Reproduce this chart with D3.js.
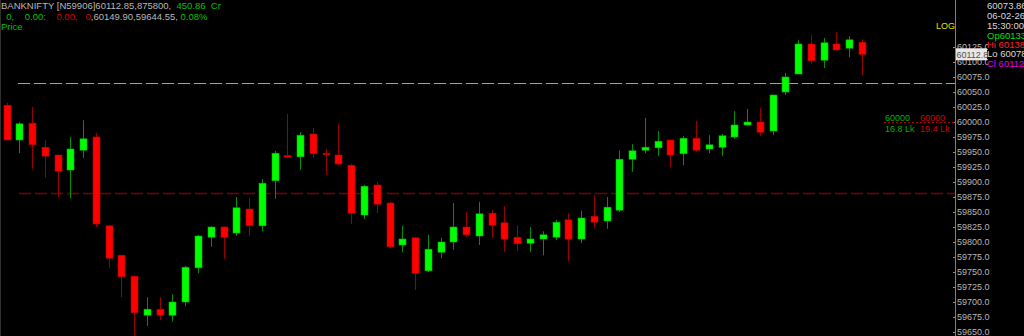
<!DOCTYPE html>
<html>
<head>
<meta charset="utf-8">
<script src="https://cdn.jsdelivr.net/npm/d3@7"></script>
<style>
  html, body { margin: 0; padding: 0; background: #000; }
  svg { display: block; font-family: "Liberation Sans", Arial, sans-serif; }
</style>
</head>
<body>
<svg id="chart" width="1024" height="336"></svg>
<script>
// candles, left to right (15 min bars)
const opens  = [60028, 59970, 59998, 59958, 59945, 59920, 59953, 59975, 59827, 59778, 59743, 59678, 59688, 59678, 59700, 59757, 59808,
                59825, 59815, 59855, 59827, 59902, 59944, 59942, 59980, 59948, 59945, 59928, 59845, 59895, 59865, 59795, 59807, 59752,
                59783, 59800, 59825, 59810, 59848, 59832, 59808, 59798, 59805, 59808, 59837, 59805, 59843, 59835, 59853, 59938, 59953,
                59957, 59970, 59947, 59973, 59955, 59958, 59975, 59995, 60000, 59985, 60050, 60080, 60130, 60103, 60130, 60123, 60133];
const highs  = [60032, 60000, 60025, 59970, 59945, 59975, 60003, 59982, 59828, 59778, 59744, 59708, 59708, 59713, 59760, 59812, 59826,
                59826, 59875, 59873, 59905, 59952, 60013, 59983, 59990, 59955, 59997, 59930, 59895, 59900, 59867, 59827, 59808, 59812,
                59807, 59865, 59850, 59867, 59853, 59860, 59827, 59825, 59818, 59837, 59848, 59852, 59878, 59875, 59953, 59963, 60007,
                59985, 59970, 59977, 60002, 59978, 59980, 60018, 60022, 60023, 60045, 60082, 60137, 60145, 60140, 60149.9, 60143, 60138];
const lows   = [59970, 59948, 59922, 59907, 59875, 59873, 59940, 59825, 59757, 59708, 59644.55, 59660, 59670, 59667, 59693, 59748, 59792,
                59772, 59810, 59810, 59818, 59872, 59940, 59920, 59940, 59912, 59928, 59830, 59838, 59848, 59790, 59783, 59720, 59750,
                59773, 59787, 59808, 59795, 59807, 59783, 59785, 59783, 59778, 59803, 59768, 59798, 59823, 59822, 59850, 59917, 59948,
                59943, 59925, 59928, 59950, 59948, 59943, 59972, 59995, 59977, 59978, 60045, 60080, 60097, 60090, 60120, 60108, 60078];
const closes = [59970, 59997, 59962, 59943, 59918, 59955, 59972, 59830, 59773, 59742, 59682, 59688, 59678, 59700, 59758, 59810, 59825,
                59808, 59857, 59827, 59898, 59948, 59942, 59978, 59947, 59946, 59930, 59848, 59893, 59863, 59792, 59805, 59748, 59788,
                59800, 59825, 59812, 59847, 59828, 59805, 59797, 59805, 59812, 59833, 59805, 59840, 59833, 59858, 59938, 59952, 59958,
                59968, 59945, 59973, 59953, 59962, 59977, 59995, 60000, 59983, 60045, 60075, 60130, 60102, 60132, 60120, 60137, 60112.85];

const yTicks = [59650, 59675, 59700, 59725, 59750, 59775, 59800, 59825, 59850, 59875, 59900, 59925, 59950, 59975,
                60000, 60025, 60050, 60075, 60100, 60125];
const lastPrice = 60112.85;
const greyLevel = 60065;   // white dashed line
const redLevel = 59882;    // dark red dashed line
const oiStrike = 60000;
const oiCall = "16.8 Lk";
const oiPut = "19.4 Lk";

const headerLine1 = [["BANKNIFTY [N59906]", "#b8b8b8"], ["60112.85,875800,", "#b8b8b8"], ["  450.86  Cr", "#00c000"]];
const headerLine2 = [["  0,", "#00c000"], ["    0.00:", "#00c000"], ["    0.00,", "#d00000"], ["   0", "#d00000"],
                     [",60149.90,59644.55,", "#b8b8b8"], [" 0.08%", "#00c000"]];
const infoLines = [["60073.86", "#d8d8d8"], ["06-02-26", "#d8d8d8"], ["15:30:00", "#d8d8d8"], ["Op60133.", "#00e000"],
                   ["Hi  60138", "#ff2020"], ["Lo  60078", "#d8d8d8"], ["Cl  60112", "#e000e0"]];

const svg = d3.select("#chart");
const width = 1024, height = 336;
const axisX = 955;

svg.append("rect").attr("width", width).attr("height", height).attr("fill", "#000");
svg.append("line").attr("x1", 0.5).attr("x2", 0.5).attr("y1", 0).attr("y2", height).attr("stroke", "#303030");

const x = d3.scaleLinear().domain([0, opens.length - 1]).range([6.5, 862]);
const y = d3.scaleLinear().domain([59650, 60125]).range([332, 47]);

const candles = opens.map((o, i) => ({ i, o, h: highs[i], l: lows[i], c: closes[i], up: closes[i] >= o }));

// dashed level lines
svg.append("line")
  .attr("x1", 18).attr("x2", axisX)
  .attr("y1", Math.round(y(greyLevel)) + 0.5).attr("y2", Math.round(y(greyLevel)) + 0.5)
  .attr("stroke", "#a0a0a0").attr("stroke-width", 1.2).attr("stroke-dasharray", "12,4");
svg.append("line")
  .attr("x1", 19).attr("x2", axisX)
  .attr("y1", Math.round(y(redLevel)) + 0.5).attr("y2", Math.round(y(redLevel)) + 0.5)
  .attr("stroke", "#7a0000").attr("stroke-width", 1.5).attr("stroke-dasharray", "12,4");

// candles
const g = svg.append("g");
g.selectAll("line.wick")
  .data(candles)
  .join("line")
  .attr("class", "wick")
  .attr("x1", d => Math.round(x(d.i)) + 0.5).attr("x2", d => Math.round(x(d.i)) + 0.5)
  .attr("y1", d => y(d.h)).attr("y2", d => y(d.l))
  .attr("stroke", d => d.up ? "#009000" : "#9a0000");

g.selectAll("rect.body")
  .data(candles)
  .join("rect")
  .attr("class", "body")
  .attr("x", d => Math.round(x(d.i)) - 3)
  .attr("width", 7)
  .attr("y", d => y(Math.max(d.o, d.c)))
  .attr("height", d => Math.max(1.5, Math.abs(y(d.o) - y(d.c))))
  .attr("fill", d => d.up ? "#00ff00" : "#ff0000")
  .attr("stroke", d => d.up ? "#00b000" : "#b00000")
  .attr("stroke-width", 0.6);

// right price axis
const axis = d3.axisRight(y).tickValues(yTicks).tickSize(3).tickFormat(d3.format(".1f"));
const ag = svg.append("g").attr("transform", `translate(${axisX - 2},0)`).call(axis);
ag.select(".domain").attr("stroke", "none");
ag.selectAll(".tick line").attr("stroke", "#909090");
ag.selectAll(".tick text").attr("fill", "#b8b8b8").attr("font-size", 9).attr("x", 4)
  .attr("font-family", "Liberation Sans, Arial, sans-serif");
svg.append("line").attr("x1", axisX + 0.5).attr("x2", axisX + 0.5).attr("y1", 0).attr("y2", height)
  .attr("stroke", "#808080");

// last price tag
const ly = y(lastPrice);
svg.append("rect").attr("x", axisX + 1).attr("y", ly - 6).attr("width", 31).attr("height", 12).attr("fill", "#e8e8e8");
svg.append("text").attr("x", axisX + 1.5).attr("y", ly + 3.5).attr("font-size", 9).attr("fill", "#505050")
  .text(d3.format(".1f")(lastPrice).slice(0, 7));

// info panel on the right
const infoY = [9, 19, 29, 39, 48, 57, 67];
svg.append("rect").attr("x", 988).attr("y", 41).attr("width", 36).attr("height", 28).attr("fill", "#000");
svg.append("g").selectAll("text")
  .data(infoLines)
  .join("text")
  .attr("x", 987)
  .attr("y", (d, i) => infoY[i])
  .attr("font-size", 9.5)
  .attr("fill", d => d[1])
  .text(d => d[0]);

svg.append("text").attr("x", 936).attr("y", 29).attr("font-size", 9).attr("fill", "#e0e000").text("LOG");

// OI strike marker
const oy = Math.round(y(oiStrike)) + 0.5;
svg.append("line").attr("x1", 884).attr("x2", axisX).attr("y1", oy).attr("y2", oy)
  .attr("stroke", "#b00000").attr("stroke-dasharray", "2,2");
svg.append("text").attr("x", 885).attr("y", oy - 2).attr("font-size", 9).attr("fill", "#00b000").text(oiStrike);
svg.append("text").attr("x", 920).attr("y", oy - 2).attr("font-size", 9).attr("fill", "#d00000").text(oiStrike);
svg.append("text").attr("x", 885).attr("y", oy + 9).attr("font-size", 9).attr("fill", "#00b000").text(oiCall);
svg.append("text").attr("x", 920).attr("y", oy + 9).attr("font-size", 9).attr("fill", "#d00000").text(oiPut);

// header
function headerLine(parts, yy) {
  const t = svg.append("text").attr("x", 1).attr("y", yy).attr("font-size", 9.5).attr("xml:space", "preserve")
    .style("white-space", "pre");
  parts.forEach(p => t.append("tspan").attr("fill", p[1]).text(p[0]));
}
headerLine(headerLine1, 9);
headerLine(headerLine2, 20);
svg.append("text").attr("x", 1).attr("y", 30).attr("font-size", 9.5).attr("fill", "#00c000").text("Price");
</script>
</body>
</html>
